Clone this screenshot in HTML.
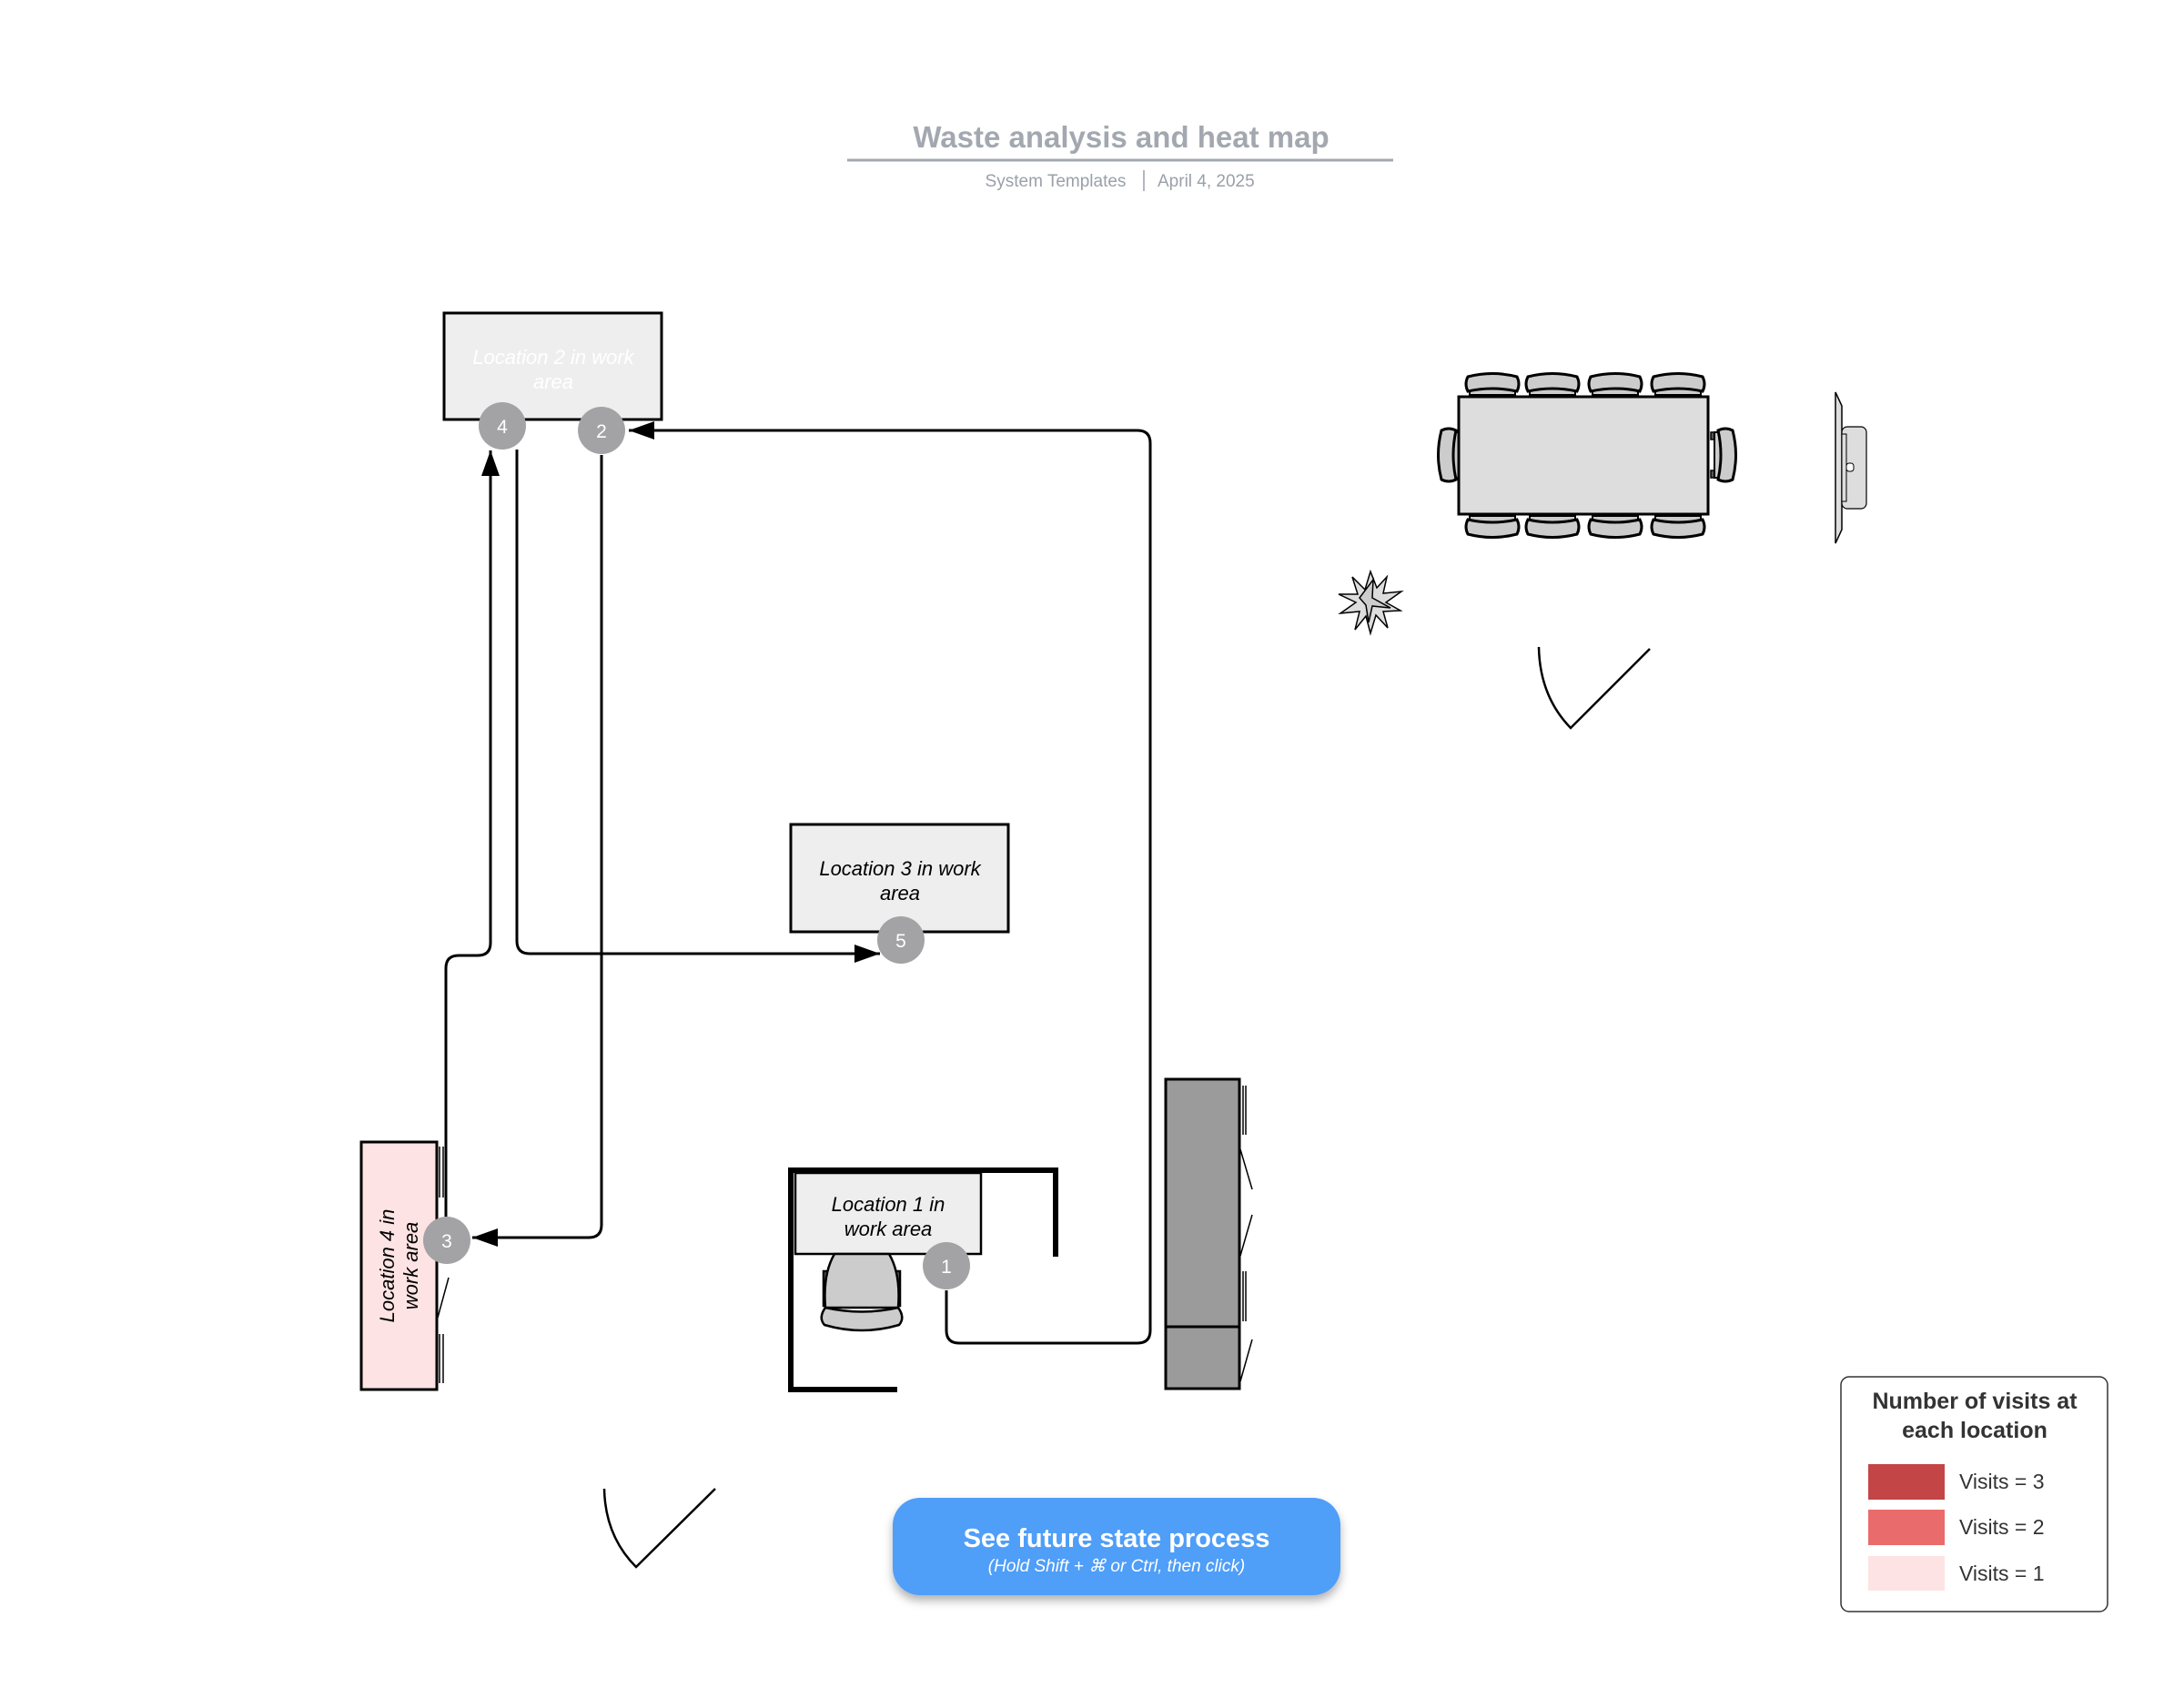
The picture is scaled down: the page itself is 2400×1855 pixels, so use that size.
<!DOCTYPE html>
<html><head><meta charset="utf-8"><style>
html,body{margin:0;padding:0;background:#fff}
svg{display:block}
text{font-family:"Liberation Sans",sans-serif}
</style></head><body>
<svg width="2400" height="1855" viewBox="0 0 2400 1855" xmlns="http://www.w3.org/2000/svg">
<defs>
<marker id="ar" viewBox="0 0 10 10" refX="10" refY="5" markerWidth="10" markerHeight="10" markerUnits="userSpaceOnUse" orient="auto">
<path d="M0,0 L10,5 L0,10 z" fill="#000"/></marker>
<marker id="arr" viewBox="0 0 28 20" refX="28" refY="10" markerWidth="28" markerHeight="20" markerUnits="userSpaceOnUse" orient="auto">
<path d="M0,0 L28,10 L0,20 z" fill="#000"/></marker>
<g id="chairT">
<rect x="4" y="16" width="8" height="12" fill="#555" stroke="#000" stroke-width="1.5"/>
<rect x="46" y="16" width="8" height="12" fill="#555" stroke="#000" stroke-width="1.5"/>
<path d="M4,16 Q29,10 54,16 L54,24 L4,24 Z" fill="#ccc" stroke="#000" stroke-width="2"/>
<path d="M2,4 Q29,-3 56,4 Q60,12 56,20 Q29,14 2,20 Q-2,12 2,4 Z" fill="#ccc" stroke="#000" stroke-width="3"/>
</g>
<filter id="sh" x="-10%" y="-20%" width="120%" height="160%"><feDropShadow dx="0" dy="6" stdDeviation="5" flood-color="#000" flood-opacity="0.3"/></filter>
</defs>

<!-- title -->
<text x="1232" y="162" text-anchor="middle" font-size="33" font-weight="bold" fill="#a3a8b0">Waste analysis and heat map</text>
<line x1="931" y1="176" x2="1531" y2="176" stroke="#a3a8b0" stroke-width="3"/>
<text x="1160" y="205" text-anchor="middle" font-size="19" fill="#9aa0a9">System Templates</text>
<line x1="1257" y1="187" x2="1257" y2="210" stroke="#9aa0a9" stroke-width="1.5"/>
<text x="1272" y="205" font-size="19" fill="#9aa0a9">April 4, 2025</text>

<!-- connectors -->
<g fill="none" stroke="#000" stroke-width="3">
<path d="M1040,1418 L1040,1462 Q1040,1476 1054,1476 L1250,1476 Q1264,1476 1264,1462 L1264,487 Q1264,473 1250,473 L691,473" marker-end="url(#arr)"/>
<path d="M661,500 L661,1346 Q661,1360 647,1360 L519,1360" marker-end="url(#arr)"/>
<path d="M490,1337 L490,1064 Q490,1050 504,1050 L525,1050 Q539,1050 539,1036 L539,495" marker-end="url(#arr)"/>
<path d="M568,494 L568,1034 Q568,1048 582,1048 L967,1048" marker-end="url(#arr)"/>
</g>

<!-- location 2 -->
<rect x="488" y="344" width="239" height="117" fill="#eeeeee" stroke="#000" stroke-width="3"/>
<text x="608" y="400" text-anchor="middle" font-size="22" font-style="italic" fill="#fff">Location 2 in work</text>
<text x="608" y="427" text-anchor="middle" font-size="22" font-style="italic" fill="#fff">area</text>

<!-- location 3 -->
<rect x="869" y="906" width="239" height="118" fill="#eeeeee" stroke="#000" stroke-width="3"/>
<text x="989" y="962" text-anchor="middle" font-size="22" font-style="italic" fill="#000">Location 3 in work</text>
<text x="989" y="989" text-anchor="middle" font-size="22" font-style="italic" fill="#000">area</text>

<!-- location 4 -->
<rect x="397" y="1255" width="83" height="272" fill="#fde3e3" stroke="#000" stroke-width="3"/>
<text transform="translate(433,1391) rotate(-90)" text-anchor="middle" font-size="22" font-style="italic">Location 4 in</text>
<text transform="translate(459,1391) rotate(-90)" text-anchor="middle" font-size="22" font-style="italic">work area</text>
<g stroke="#000" stroke-width="1.5">
<line x1="483" y1="1260" x2="483" y2="1316"/><line x1="487" y1="1260" x2="487" y2="1316"/>
<line x1="483" y1="1466" x2="483" y2="1520"/><line x1="487" y1="1466" x2="487" y2="1520"/>
<line x1="493" y1="1404" x2="481" y2="1448"/>
</g>

<!-- cubicle -->
<path d="M986,1527 L869,1527 L869,1286 L1160,1286 L1160,1381" fill="none" stroke="#000" stroke-width="6"/>
<rect x="874" y="1289" width="204" height="89" fill="#eeeeee" stroke="#000" stroke-width="2.5"/>
<text x="976" y="1331" text-anchor="middle" font-size="22" font-style="italic">Location 1 in</text>
<text x="976" y="1358" text-anchor="middle" font-size="22" font-style="italic">work area</text>
<!-- desk chair -->
<g stroke="#000" stroke-width="2.5">
<rect x="905" y="1397" width="10" height="38" fill="#666"/>
<rect x="979" y="1397" width="10" height="38" fill="#666"/>
<path d="M917,1378 L977,1378 Q990,1400 987,1437 L907,1437 Q904,1400 917,1378 Z" fill="#ccc"/>
<path d="M907,1437 Q947,1446 987,1437 Q995,1448 988,1456 Q947,1468 906,1456 Q899,1448 907,1437 Z" fill="#ccc"/>
</g>

<!-- cabinet -->
<rect x="1281" y="1186" width="81" height="340" fill="#9b9b9b" stroke="#000" stroke-width="3"/>
<line x1="1281" y1="1458" x2="1362" y2="1458" stroke="#000" stroke-width="3"/>
<g stroke="#000" stroke-width="1.5">
<line x1="1366" y1="1193" x2="1366" y2="1247"/><line x1="1369" y1="1193" x2="1369" y2="1247"/>
<line x1="1366" y1="1397" x2="1366" y2="1452"/><line x1="1369" y1="1397" x2="1369" y2="1452"/>
<line x1="1363" y1="1263" x2="1376" y2="1307"/>
<line x1="1376" y1="1335" x2="1363" y2="1380"/>
<line x1="1376" y1="1472" x2="1363" y2="1518"/>
</g>

<!-- circles -->
<g fill="#a3a3a6">
<circle cx="552" cy="468" r="26"/><circle cx="661" cy="473" r="26"/>
<circle cx="990" cy="1033" r="26"/><circle cx="491" cy="1363" r="26"/>
<circle cx="1040" cy="1391" r="26"/>
</g>
<g fill="#fff" font-size="21" text-anchor="middle">
<text x="552" y="476">4</text><text x="661" y="481">2</text>
<text x="990" y="1041">5</text><text x="491" y="1371">3</text>
<text x="1040" y="1399">1</text>
</g>

<!-- conference table -->
<use href="#chairT" x="1611" y="410"/><use href="#chairT" x="1677" y="410"/>
<use href="#chairT" x="1746" y="410"/><use href="#chairT" x="1815" y="410"/>
<g transform="translate(0,1001) scale(1,-1)">
<use href="#chairT" x="1611" y="410"/><use href="#chairT" x="1677" y="410"/>
<use href="#chairT" x="1746" y="410"/><use href="#chairT" x="1815" y="410"/>
</g>
<g transform="translate(1580,529) rotate(-90)"><use href="#chairT" x="0" y="0"/></g>
<g transform="translate(1908,471) rotate(90)"><use href="#chairT" x="0" y="0"/></g>
<rect x="1603" y="436" width="274" height="129" fill="#dddddd" stroke="#000" stroke-width="3"/>

<!-- tv -->
<path d="M2017,431 L2024,446 L2024,582 L2017,597 Z" fill="#ddd" stroke="#000" stroke-width="1.5"/>
<rect x="2024" y="469" width="27" height="90" rx="6" fill="#ddd" stroke="#000" stroke-width="1.2"/>
<rect x="2024" y="477" width="5" height="74" fill="#ddd" stroke="#000" stroke-width="1"/>
<rect x="2029" y="509" width="8" height="9" rx="3" fill="#fff" stroke="#000" stroke-width="1"/>

<!-- plant -->
<g transform="translate(1506,662)" fill="#ddd" stroke="#000" stroke-width="1.5">
<path d="M0,-34 L7,-16 L18,-28 L14,-10 L34,-12 L17,0 L33,9 L14,10 L19,28 L6,14 L0,34 L-5,15 L-17,30 L-12,10 L-33,12 L-16,0 L-35,-9 L-14,-9 L-20,-28 L-6,-14 Z"/>
<path d="M-12,-5 L3,-25 L2,-5 L22,6 L2,4 L-2,22 L-5,3 Z" fill="#ccc"/>
</g>

<!-- doors -->
<path d="M1691,711 Q1692,765 1726,800 L1813,713" fill="none" stroke="#000" stroke-width="2.5"/>
<path d="M664,1636 Q665,1688 699,1722 L786,1636" fill="none" stroke="#000" stroke-width="2.5"/>

<!-- button -->
<rect x="981" y="1646" width="492" height="107" rx="30" fill="#4f9ef8" filter="url(#sh)"/>
<text x="1227" y="1700" text-anchor="middle" font-size="29" font-weight="bold" fill="#fff">See future state process</text>
<text x="1227" y="1727" text-anchor="middle" font-size="19" font-style="italic" fill="#fff">(Hold Shift + ⌘ or Ctrl, then click)</text>

<!-- legend -->
<rect x="2023" y="1513" width="293" height="258" rx="9" fill="#fff" stroke="#333" stroke-width="1.5"/>
<text x="2170" y="1548" text-anchor="middle" font-size="25" font-weight="bold" fill="#333">Number of visits at</text>
<text x="2170" y="1580" text-anchor="middle" font-size="25" font-weight="bold" fill="#333">each location</text>
<rect x="2053" y="1609" width="84" height="39" fill="#c44545"/>
<rect x="2053" y="1659" width="84" height="39" fill="#ea6b6b"/>
<rect x="2053" y="1710" width="84" height="38" fill="#fde3e3"/>
<g font-size="23" fill="#333">
<text x="2153" y="1636">Visits = 3</text>
<text x="2153" y="1686">Visits = 2</text>
<text x="2153" y="1737">Visits = 1</text>
</g>
</svg>
</body></html>
